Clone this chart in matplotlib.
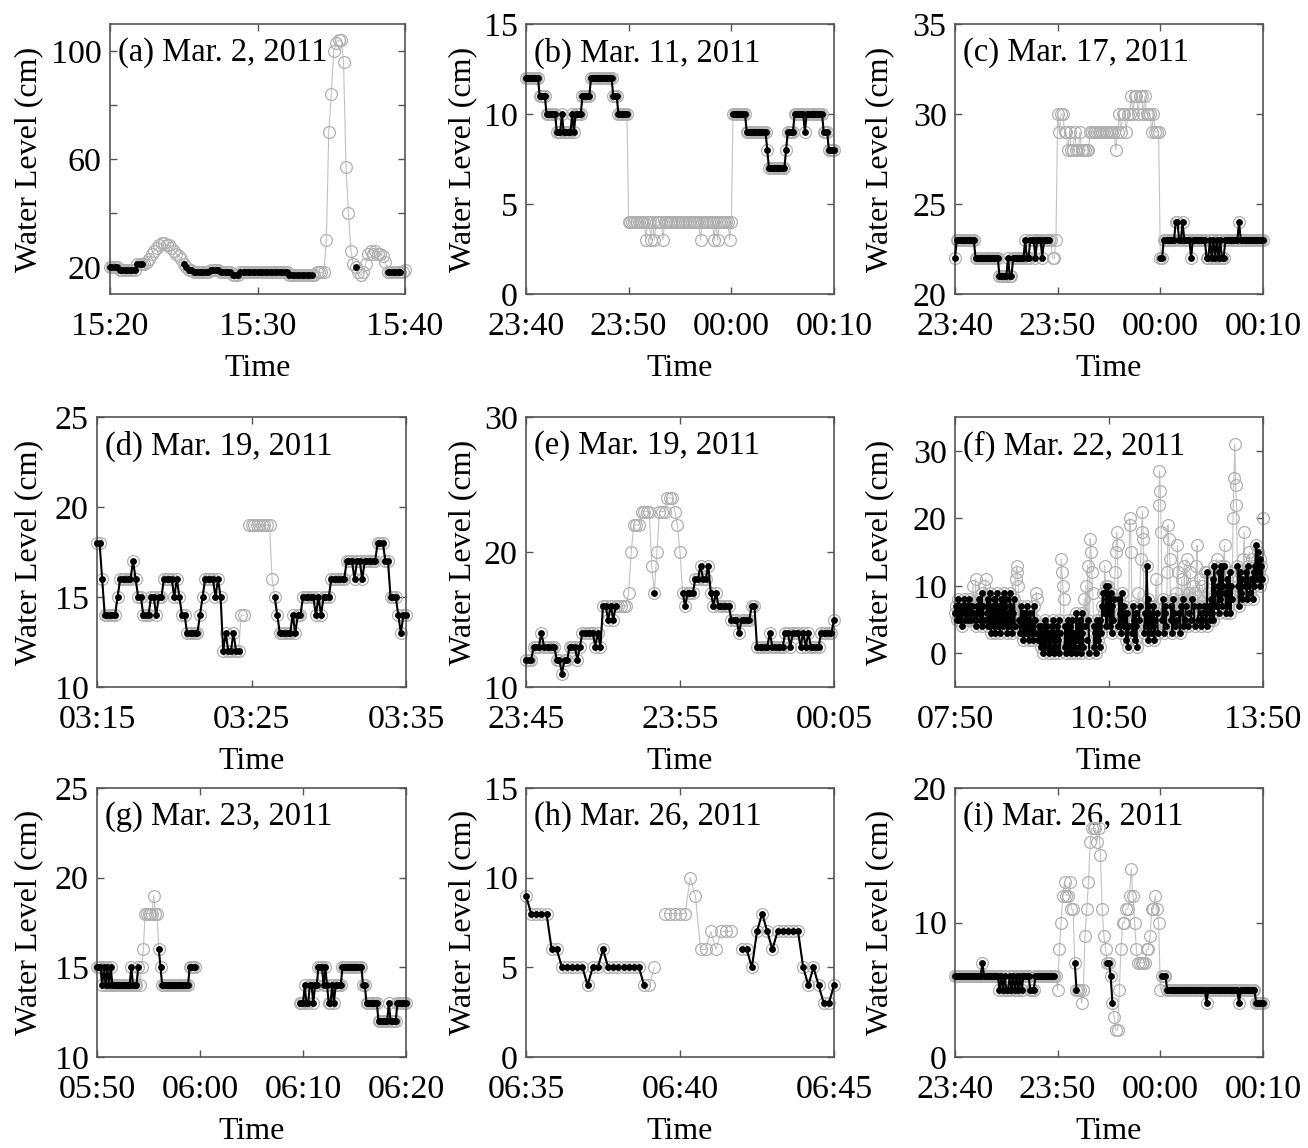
import numpy as np
import matplotlib.pyplot as plt

plt.rcParams['font.family'] = ['Liberation Serif', 'DejaVu Serif']
plt.rcParams['font.size'] = 23

# water level records, 10-s sampling; each run is (passes QC, readings in cm)
# None marks a missing record
a_runs = [
    (1, [20]*4 + [19]*7 + [21]*3),
    (0, [21, 22, 23, 25, 26, 27, 28, 29, 29, 28, 28, 27, 26, 25, 24, 23]),
    (1, [21, 20, 19, 19, 18, 18, 18] + [18]*4 + [19]*4 + [18]*5 + [17]*3 + [18]*20 + [17]*10),
    (0, [17, 18, 18, 18, 18, 30, 70, 84, 100, 103, 104, 104, 96, 57, 40, 26, 21]),
    (1, [20]),
    (0, [18, 17, 18, 21, 25, 26, 25, 26, 25, 25, 24, 22]),
    (1, [18]*6),
    (0, [18, 19]),
]
b_runs = [
    (1, [12]*8 + [11]*4 + [10]*6 + [9]*3 + [10] + [9]*5 + [10, 9] + [10]*4 + [11]*5 + [12]*13 + [11]*3 + [10]*6),
    (0, [4]*10 + [3, 4, 4, 3, 4, 3] + [4]*4 + [3] + [4]*21 + [3] + [4]*7 + [3, 4, 3] + [4]*6 + [3, 4]),
    (1, [10]*8 + [9]*12 + [8] + [7]*10 + [8] + [9]*4 + [10]*6 + [9] + [10]*10 + [9]*3 + [8]*4),
]
c_runs = [
    (1, [22] + [23]*11 + [22]*14 + [21]*5 + [22] + [21]*2 + [22]*7 + [23] + [22]*2 + [23]*3 + [22] + [23]*3 + [22] + [23]*4),
    (0, [23, 22, 22, 23] + [30, 29, 30, 30, 29] + [29, 28, 29, 28, 28, 29] + [28, 28, 29, 28, 28, 28, 28, 28] + [29]*15 + [28]
        + [29, 30, 29, 30, 30, 29, 30, 30] + [31, 30, 31, 31, 30, 31, 31, 30, 31, 30, 30] + [30, 29, 30, 29, 29, 29]),
    (1, [22]*2 + [23]*7 + [24, 24, 23, 23, 24] + [23]*4 + [22] + [23]*8 + [22, 22, 23, 22, 23, 22, 23, 22, 23, 22, 22] + [23]*8 + [24] + [23]*14),
]
d_runs = [
    (1, [18]*2 + [16] + [14]*5 + [15] + [16]*5 + [17, 16] + [15]*2 + [14]*3 + [15]*2 + [14] + [15]*2 + [16]*4 + [15, 16, 15]
        + [14]*2 + [13]*5 + [14, 15] + [16]*4 + [15, 16, 15] + [12, 13, 12, 12, 13, 12, 12]),
    (0, [14, 14]),
    (0, [None]),
    (0, [19]*9 + [16]),
    (1, [15, 14] + [13]*5 + [14, 13, 14, 14] + [15]*5 + [14, 15, 14] + [15]*3 + [16]*6 + [17]*3 + [16] + [17]*2 + [16] + [17]*5
        + [18]*3 + [17]*2 + [15]*3 + [14, 13, 14, 14]),
]
e_runs = [
    (1, [12]*3 + [13]*3 + [14] + [13]*5 + [12]*2 + [11] + [12]*2 + [13]*3 + [12, 13] + [14]*5 + [13, 14, 13] + [16]*2 + [15, 16, 15, 16]),
    (0, [16]*4 + [17, 20] + [22]*3 + [23]*4 + [19]),
    (1, [17]),
    (0, [20] + [23]*3 + [24]*3 + [23, 22, 20]),
    (1, [17, 16] + [17]*3 + [18]*2 + [19] + [18]*2 + [19, 17, 16, 17] + [16]*5 + [15]*3 + [14] + [15]*4 + [16]*2 + [13]*5 + [14]
        + [13]*5 + [14]*2 + [13] + [14]*3 + [13, 14, 13, 14] + [13]*4 + [14]*5 + [15]),
]
g_runs = [
    (1, [15]*3 + [14, 15, 14, 15, 14, 15] + [14]*11 + [15] + [14]*3 + [15]),
    (0, [14, 15, 16] + [18]*5 + [19] + [18]*2),
    (1, [16, 15] + [14]*16 + [15]*4),
    (0, [None]*60),
    (1, [13, 13, 13, 14, 13, 13, 14, 14, 13, 14, 14, 15, 15, 15, 14, 15, 14, 13, 13, 14, 13] + [14]*4 + [15]*12 + [14]*2
        + [13]*7 + [12]*6 + [13] + [12]*4 + [13]*6),
]
h_runs = [
    (1, [9] + [8]*4 + [6]*2 + [5]*5 + [4] + [5]*2 + [6] + [5]*7 + [4]),
    (0, [4, 5]),
    (0, [None]),
    (0, [8]*5 + [10, 9, 6, 6, 7, 6, 7, 7, 7]),
    (0, [None]),
    (1, [6, 6, 5, 7, 8, 7, 6] + [7]*5 + [5, 4, 5, 4, 3, 3, 4]),
]
i_runs = [
    (1, [6]*16 + [7] + [6]*9 + [5, 6, 5, 6, 5, 5, 6, 5, 6, 5, 6, 5, 6, 5, 6] + [6]*3 + [5]*3 + [6]*12),
    (0, [6, 5, 8, 10, 12, 13, 12, 12, 13, 11, 11]),
    (1, [7, 5]),
    (0, [5, 5, 4, 5, 9, 11, 13, 16, 17, 17, 17, 16, 17, 15, 11, 9, 8]),
    (1, [7, 7, 6, 4]),
    (0, [3, 2, 2, 5, 8, 10, 10, 11, 11, 12, 14, 12, 10, 8, 7, 7, 7, 7, 7, 8, 8, 9, 11, 11, 12, 11, 10, 5]),
    (1, [6]*3 + [5]*23 + [4] + [5]*18 + [4] + [5]*9 + [4]*5),
]

# Mar. 22 record, 1-min sampling (07:50-13:50), with the indices rejected by QC
f_vals = [
    6, 7, 5, 6, 8, 5, 7, 6, 4, 7,
    6, 8, 5, 7, 6, 5, 8, 6, 7, 5,
    7, 10, 6, 5, 11, 4, 7, 6, 8, 5,
    6, 9, 4, 7, 10, 5, 11, 6, 8, 4,
    5, 9, 3, 7, 6, 4, 8, 3, 6, 9,
    4, 7, 5, 3, 8, 6, 4, 9, 5, 7,
    8, 3, 6, 4, 9, 5, 7, 3, 6, 8,
    4, 11, 13, 12, 10, 5, 3, 7, 4, 6,
    2, 6, 5, 3, 7, 4, 2, 5, 6, 3,
    4, 2, 7, 3, 5, 9, 8, 2, 4, 3,
    1, 4, 2, 0, 3, 5, 1, 4, 2, 3,
    0, 3, 1, 4, 2, 5, 0, 3, 1, 4,
    2, 5, 0, 3, 14, 12, 10, 8, 1, 4,
    0, 3, 5, 1, 4, 0, 2, 5, 1, 3,
    3, 0, 6, 2, 4, 1, 5, 0, 3, 6,
    1, 8, 4, 10, 2, 13, 5, 0, 17, 15,
    12, 9, 4, 1, 3, 0, 5, 2, 4, 1,
    5, 3, 7, 9, 6, 13, 10, 4, 8, 10,
    6, 4, 9, 3, 7, 5, 8, 12, 15, 18,
    16, 4, 8, 6, 3, 9, 5, 7, 4, 6,
    2, 6, 1, 4, 20, 19, 15, 3, 7, 5,
    2, 6, 4, 1, 9, 5, 7, 14, 18, 21,
    17, 3, 6, 4, 13, 8, 2, 7, 5, 3,
    6, 4, 7, 2, 5, 11, 6, 3, 22, 27,
    24, 18, 5, 8, 3, 6, 7, 4, 12, 19,
    17, 14, 5, 7, 3, 8, 6, 4, 9, 5,
    16, 12, 6, 3, 7, 11, 8, 4, 13, 5,
    7, 14, 4, 9, 6, 12, 5, 8, 10, 7,
    4, 9, 13, 16, 5, 7, 11, 4, 6, 10,
    5, 7, 12, 6, 4, 12, 9, 7, 5, 8,
    6, 11, 5, 13, 9, 7, 14, 10, 6, 12,
    8, 13, 7, 10, 13, 16, 9, 6, 11, 7,
    9, 12, 6, 10, 8, 20, 26, 31, 25, 22,
    13, 10, 7, 12, 9, 11, 8, 14, 18, 10,
    12, 8, 13, 10, 15, 9, 11, 14, 8, 12,
    10, 13, 16, 11, 15, 12, 14, 10, 13, 11,
    20,
]
f_rejected = [21, 24, 34, 36, 71, 72, 73, 74, 95, 96, 124, 125, 126, 127,
              151, 153, 155, 158, 159, 160, 161, 175, 187, 188, 189, 190,
              204, 205, 206, 214, 217, 218, 219, 220, 235, 238, 239,
              240, 241, 248, 249, 250, 251, 258, 260, 261, 265, 268,
              271, 273, 275, 278, 281, 282, 283, 286, 289, 292, 296,
              306, 315, 325, 326, 327, 328, 329, 337, 338, 344, 347, 360]

titles = ['(a) Mar. 2, 2011', '(b) Mar. 11, 2011', '(c) Mar. 17, 2011',
          '(d) Mar. 19, 2011', '(e) Mar. 19, 2011', '(f) Mar. 22, 2011',
          '(g) Mar. 23, 2011', '(h) Mar. 26, 2011', '(i) Mar. 26, 2011']
xtick_labels = [
    ['15:20', '15:30', '15:40'],
    ['23:40', '23:50', '00:00', '00:10'],
    ['23:40', '23:50', '00:00', '00:10'],
    ['03:15', '03:25', '03:35'],
    ['23:45', '23:55', '00:05'],
    ['07:50', '10:50', '13:50'],
    ['05:50', '06:00', '06:10', '06:20'],
    ['06:35', '06:40', '06:45'],
    ['23:40', '23:50', '00:00', '00:10'],
]


def from_runs(runs):
    raw, kept = [], []
    for ok, vals in runs:
        v = np.array(vals, dtype=float)
        raw.append(v)
        kept.append(v if ok else np.full(len(v), np.nan))
    return np.concatenate(raw), np.concatenate(kept)


def from_flags(vals, rejected):
    raw = np.array(vals, dtype=float)
    kept = raw.copy()
    kept[rejected] = np.nan
    return raw, kept


series = [from_runs(r) for r in (a_runs, b_runs, c_runs, d_runs, e_runs)]
series.append(from_flags(f_vals, f_rejected))
series += [from_runs(r) for r in (g_runs, h_runs, i_runs)]

sec10 = 10 / 60
steps = [sec10] * 5 + [1] + [sec10] * 3
spans = [20, 30, 30, 20, 20, 360, 30, 10, 30]
ylims = [(10, 110), (0, 15), (20, 35), (10, 25), (10, 30), (-5, 35), (10, 25), (0, 15), (0, 20)]
yticks = [[20, 40, 60, 80, 100], [0, 5, 10, 15], [20, 25, 30, 35], [10, 15, 20, 25], [10, 20, 30],
          [0, 10, 20, 30], [10, 15, 20, 25], [0, 5, 10, 15], [0, 10, 20]]

# axes boxes in pixels: left, top, right, bottom
boxes = [(110, 24, 405, 294), (526, 24, 834, 294), (955, 24, 1263, 294),
         (97, 417, 406, 687), (526, 417, 834, 687), (955, 417, 1263, 687),
         (97, 788, 406, 1057), (526, 788, 834, 1057), (955, 788, 1263, 1057)]
ylabel_x = [29, 463, 880]

W, H = 1308, 1148
fig = plt.figure(figsize=(W / 100, H / 100), dpi=100)

for k in range(9):
    l, t, r, b = boxes[k]
    ax = fig.add_axes([l / W, 1 - b / H, (r - l) / W, (b - t) / H])
    raw, kept = series[k]
    x = np.arange(len(raw)) * steps[k]

    ax.plot(x, raw, color='#c2c2c2', lw=0.8, marker='o', ms=8.5, mfc='none',
            mec='#b0b0b0', mew=0.9, clip_on=False, zorder=2)
    ax.plot(x, kept, color='black', lw=1.5, marker='o', ms=3.9, mfc='black',
            mec='black', clip_on=False, zorder=3)

    ax.set_xlim(0, spans[k])
    ax.set_ylim(*ylims[k])
    labels = xtick_labels[k]
    ax.set_xticks(np.linspace(0, spans[k], len(labels)))
    ax.set_xticklabels(labels)
    ax.set_yticks(yticks[k])
    if k == 0:
        ax.set_yticklabels(['20', '', '60', '', '100'])

    ax.tick_params(direction='in', top=True, right=True, length=5, width=1,
                   color='#555555', labelsize=24.5)
    ax.tick_params(axis='x', pad=12.5)
    ax.tick_params(axis='y', pad=6)
    for s in ax.spines.values():
        s.set_color('#555555')
        s.set_linewidth(1.2)

    ax.set_xlabel('Time', labelpad=9)
    ax.set_ylabel('Water Level (cm)')
    ax.yaxis.label.set_va('center')
    ax.yaxis.set_label_coords((ylabel_x[k % 3] - l) / (r - l), 0.5)

    ax.text(8 / (r - l), 1 - 29 / (b - t), titles[k], transform=ax.transAxes,
            ha='left', va='center', fontsize=23.5, zorder=1)

fig.savefig('out.png', dpi=100)
